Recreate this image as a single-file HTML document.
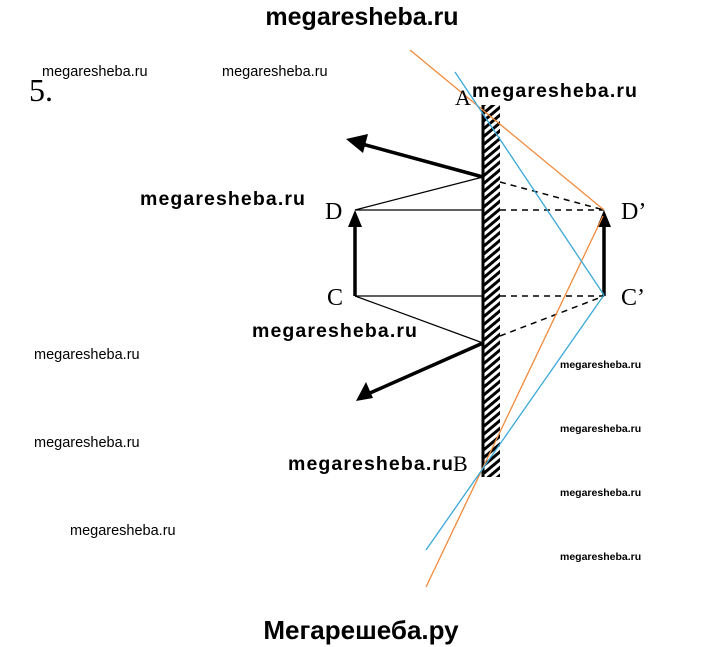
<!DOCTYPE html>
<html><head><meta charset="utf-8"><style>
html,body{margin:0;padding:0;background:#fff;}
svg{display:block;}
.s{font-family:"Liberation Sans",sans-serif;font-size:14.5px;fill:#000;}
.r{font-family:"Liberation Sans",sans-serif;font-size:10.5px;font-weight:bold;fill:#000;}
.b{font-family:"Liberation Sans",sans-serif;font-size:19.5px;font-weight:bold;fill:#000;letter-spacing:1.1px;}
.l{font-family:"Liberation Serif",serif;font-size:24px;fill:#000;}
</style></head><body>
<svg width="720" height="647" viewBox="0 0 720 647" xmlns="http://www.w3.org/2000/svg">
<defs>
<pattern id="h" width="6" height="6" patternUnits="userSpaceOnUse" patternTransform="rotate(-40)">
<rect width="6" height="6" fill="#fff"/><rect width="6" height="3" fill="#000"/>
</pattern>
</defs>
<rect x="482" y="105" width="18" height="372" fill="url(#h)"/>
<line x1="483" y1="105" x2="483" y2="477" stroke="#000" stroke-width="3"/>
<g stroke="#000" stroke-width="1.2" fill="none">
<line x1="355" y1="210" x2="483" y2="177"/>
<line x1="355" y1="210" x2="483" y2="210"/>
<line x1="355" y1="296" x2="483" y2="296"/>
<line x1="355" y1="296" x2="483" y2="343"/>
</g>
<g stroke="#000" stroke-width="1.5" fill="none" stroke-dasharray="6,5">
<line x1="500" y1="182" x2="604" y2="210"/>
<line x1="500" y1="210" x2="604" y2="210"/>
<line x1="500" y1="296" x2="604" y2="296"/>
<line x1="500" y1="336" x2="604" y2="296"/>
</g>
<g stroke="#000" stroke-width="3.5">
<line x1="483" y1="177" x2="362" y2="144"/>
<line x1="483" y1="343" x2="370" y2="393"/>
<line x1="355" y1="296" x2="355" y2="225"/>
<line x1="604" y1="296" x2="604" y2="225"/>
</g>
<polygon points="346,139 368,134 363,153" fill="#000"/>
<polygon points="356,401 366,382 373,398" fill="#000"/>
<polygon points="355,210 348,227 362,227" fill="#000"/>
<polygon points="604,210 597,227 611,227" fill="#000"/>
<g stroke-width="1.3" fill="none">
<line x1="410" y1="50" x2="604" y2="210" stroke="#f08a3c"/>
<line x1="603" y1="216" x2="426" y2="587" stroke="#f08a3c"/>
<line x1="455" y1="72" x2="604" y2="295" stroke="#3aa8d8"/>
<line x1="604" y1="295" x2="426" y2="550" stroke="#3aa8d8"/>
</g>
<text class="l" x="325" y="219">D</text>
<text class="l" x="327" y="305">C</text>
<text class="l" x="621" y="219">D’</text>
<text class="l" x="621" y="305">C’</text>
<text class="l" x="455" y="105" style="font-size:22px">A</text>
<text class="l" x="453" y="471" style="font-size:22px">B</text>
<text class="l" x="29" y="101" style="font-size:32px">5.</text>
<text x="362" y="25" text-anchor="middle" style="font-family:'Liberation Sans',sans-serif;font-weight:bold;font-size:25px">megaresheba.ru</text>
<text x="361" y="639" text-anchor="middle" style="font-family:'Liberation Sans',sans-serif;font-weight:bold;font-size:26px">Мегарешеба.ру</text>
<text class="s" x="42" y="76">megaresheba.ru</text>
<text class="s" x="222" y="76">megaresheba.ru</text>
<text class="s" x="34" y="359">megaresheba.ru</text>
<text class="s" x="34" y="447">megaresheba.ru</text>
<text class="s" x="70" y="535">megaresheba.ru</text>
<text class="r" x="560" y="368">megaresheba.ru</text>
<text class="r" x="560" y="432">megaresheba.ru</text>
<text class="r" x="560" y="496">megaresheba.ru</text>
<text class="r" x="560" y="560">megaresheba.ru</text>
<text class="b" x="472" y="97">megaresheba.ru</text>
<text class="b" x="140" y="205">megaresheba.ru</text>
<text class="b" x="252" y="337">megaresheba.ru</text>
<text class="b" x="288" y="470">megaresheba.ru</text>
</svg>
</body></html>
